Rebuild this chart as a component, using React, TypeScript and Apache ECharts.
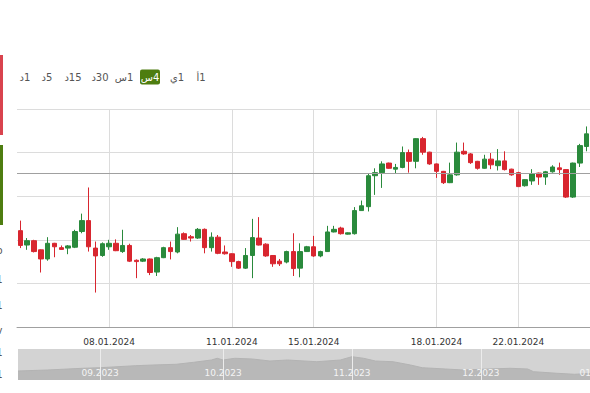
import React, { useEffect, useRef } from 'react';
import * as echarts from 'echarts';

// ---- main chart data (4-hour candles) ----
const days = [
  '03.01.2024', '04.01.2024', '05.01.2024', '08.01.2024', '09.01.2024', '10.01.2024',
  '11.01.2024', '12.01.2024', '15.01.2024', '16.01.2024', '17.01.2024', '18.01.2024',
  '19.01.2024', '22.01.2024', '23.01.2024',
];
const hours = ['00:00', '04:00', '08:00', '12:00', '16:00', '20:00'];
const labelDays = ['08.01.2024', '11.01.2024', '15.01.2024', '18.01.2024', '22.01.2024'];

const opens = [
  2022.1, 2018.8, 2019.8, 2017.7, 2015.6, 2019.2, 2018.2, 2018.1, 2018.3, 2021.9,
  2024.4, 2018.1, 2016.4, 2018.4, 2019.2, 2017.3, 2018.7, 2015.3, 2015.1, 2015.6,
  2012.6, 2015.9, 2018.2, 2017.2, 2021.4, 2020.7, 2020.4, 2022.4, 2018.2, 2020.6,
  2017.2, 2016.8, 2015.0, 2013.5, 2016.4, 2020.4, 2019.0, 2016.4, 2015.1, 2014.9,
  2017.3, 2013.5, 2017.3, 2018.4, 2016.3, 2017.3, 2021.8, 2022.7, 2021.3, 2021.4,
  2026.7, 2027.6, 2034.7, 2035.4, 2037.6, 2036.2, 2036.6, 2040.0, 2038.0, 2043.2,
  2040.1, 2037.4, 2035.7, 2033.1, 2034.9, 2040.3, 2039.7, 2038.0, 2036.4, 2038.5,
  2037.0, 2038.1, 2036.2, 2035.4, 2032.4, 2033.5, 2035.3, 2034.4, 2035.6, 2036.5,
  2036.1, 2029.8, 2037.6, 2041.4,
];
const closes = [
  2018.7, 2019.8, 2017.3, 2015.6, 2019.2, 2018.4, 2017.8, 2018.6, 2021.9, 2024.4,
  2018.4, 2016.3, 2019.1, 2019.2, 2017.5, 2018.7, 2015.1, 2015.0, 2015.6, 2012.5,
  2015.9, 2018.2, 2017.3, 2021.3, 2020.1, 2020.4, 2022.4, 2018.2, 2020.6, 2016.9,
  2016.8, 2015.0, 2013.5, 2016.4, 2020.5, 2018.8, 2016.3, 2014.5, 2014.5, 2017.3,
  2013.4, 2017.3, 2018.4, 2016.3, 2017.3, 2021.8, 2022.4, 2021.4, 2021.6, 2026.7,
  2027.8, 2034.7, 2035.4, 2037.4, 2036.4, 2036.6, 2040.0, 2038.0, 2043.2, 2040.1,
  2037.4, 2035.7, 2033.1, 2034.9, 2040.1, 2039.7, 2037.7, 2036.4, 2038.5, 2037.2,
  2038.1, 2036.1, 2034.9, 2032.2, 2033.8, 2035.1, 2034.4, 2035.6, 2036.7, 2036.1,
  2029.8, 2037.6, 2041.6, 2044.3,
];
const lows = [
  2018.1, 2017.7, 2017.1, 2012.5, 2015.2, 2016.0, 2017.7, 2016.7, 2018.1, 2021.5,
  2017.3, 2007.9, 2016.1, 2017.7, 2017.4, 2017.0, 2014.9, 2011.2, 2014.9, 2011.9,
  2011.7, 2015.8, 2015.5, 2016.9, 2020.0, 2019.6, 2020.2, 2016.9, 2017.3, 2016.7,
  2016.6, 2013.8, 2013.3, 2013.3, 2011.2, 2018.7, 2016.1, 2013.8, 2014.0, 2014.6,
  2011.7, 2011.4, 2017.2, 2016.1, 2016.0, 2017.2, 2021.7, 2021.2, 2021.2, 2021.2,
  2026.7, 2026.5, 2030.3, 2031.9, 2036.3, 2035.1, 2036.4, 2035.4, 2036.4, 2039.5,
  2037.2, 2034.2, 2032.8, 2033.0, 2034.7, 2039.5, 2037.4, 2036.1, 2036.3, 2036.2,
  2035.9, 2035.9, 2034.7, 2032.1, 2032.2, 2032.6, 2032.6, 2032.6, 2035.4, 2034.9,
  2029.6, 2029.6, 2036.7, 2040.3,
];
const highs = [
  2024.4, 2020.4, 2020.0, 2017.8, 2020.6, 2019.3, 2018.7, 2018.8, 2022.3, 2026.0,
  2032.0, 2019.6, 2019.4, 2020.0, 2020.1, 2022.3, 2019.1, 2015.5, 2015.8, 2015.7,
  2016.1, 2018.4, 2019.6, 2022.9, 2021.7, 2021.1, 2022.7, 2022.6, 2021.7, 2021.1,
  2018.7, 2016.9, 2015.2, 2018.1, 2024.8, 2025.2, 2019.2, 2016.5, 2015.6, 2017.5,
  2021.5, 2019.2, 2018.6, 2020.9, 2017.5, 2023.2, 2023.2, 2023.0, 2021.7, 2027.5,
  2029.0, 2035.3, 2036.4, 2038.0, 2037.7, 2037.4, 2041.4, 2040.7, 2043.3, 2043.6,
  2040.2, 2037.5, 2035.8, 2037.7, 2042.3, 2042.3, 2039.9, 2038.1, 2039.5, 2039.9,
  2040.8, 2040.3, 2036.3, 2035.6, 2033.9, 2036.2, 2035.4, 2035.8, 2037.1, 2037.7,
  2036.2, 2037.7, 2042.0, 2046.0,
];
const referencePrice = 2035.25;

// ---- navigator data ----
const navStart = '2023-08-14';
const navEnd = '2024-01-05';
const navHolidays = ['2023-12-25', '2024-01-01'];
const navDates = [
  '14.08.2023', '21.08.2023', '29.08.2023', '01.09.2023', '11.09.2023', '14.09.2023',
  '20.09.2023', '25.09.2023', '28.09.2023', '29.09.2023', '02.10.2023', '04.10.2023',
  '09.10.2023', '12.10.2023', '17.10.2023', '24.10.2023', '30.10.2023', '01.11.2023',
  '03.11.2023', '07.11.2023', '10.11.2023', '15.11.2023', '17.11.2023', '23.11.2023',
  '28.11.2023', '01.12.2023', '08.12.2023', '13.12.2023', '14.12.2023', '20.12.2023',
  '26.12.2023', '29.12.2023',
];
const navValues = [
  1913, 1920, 1932, 1936, 1950, 1955,
  1960, 1974, 1990, 2002, 1990, 2002,
  1997, 1983, 1990, 1978, 1990, 2013,
  2002, 1983, 1978, 1955, 1936, 1927,
  1920, 1925, 1932, 1927, 1908, 1897,
  1890, 1897,
];

// ---- timeframe buttons ----
const buttonLabels = ['1د', '5د', '15د', '30د', '1س', '4س', '1ي', '1أ'];
const activeButton = '4س';

// layout / style constants
const GREEN = '#2a8a3c';
const RED = '#d8262f';
const OLIVE = '#4e7d10';
const buttonX = [25, 47, 73, 100, 124, 150, 177, 201];
const leftFragments = ['o', '1', '1', 'v', '1', '1'];
const leftFragmentY = [250, 279, 305, 330, 352, 374];

function buildCategories(): string[] {
  const all: string[] = [];
  days.forEach((d) => hours.forEach((h) => all.push(d + ' ' + h)));
  return all.slice(5, 5 + opens.length);
}

function tradingDays(): string[] {
  const out: string[] = [];
  const d = new Date(navStart + 'T00:00:00Z');
  const end = new Date(navEnd + 'T00:00:00Z');
  while (d <= end) {
    const iso = d.toISOString().slice(0, 10);
    const wd = d.getUTCDay();
    if (wd !== 0 && wd !== 6 && navHolidays.indexOf(iso) < 0) {
      out.push(iso.slice(8, 10) + '.' + iso.slice(5, 7) + '.' + iso.slice(0, 4));
    }
    d.setUTCDate(d.getUTCDate() + 1);
  }
  return out;
}

export default function App() {
  const ref = useRef<HTMLDivElement>(null);

  useEffect(() => {
    if (!ref.current) return;
    const chart = echarts.init(ref.current, null, { renderer: 'svg' });

    const categories = buildCategories();
    const candles = opens.map((o, i) => [o, closes[i], lows[i], highs[i]]);
    const isDateLabel = (_i: number, v: string) =>
      v.slice(11) === '00:00' && labelDays.indexOf(v.slice(0, 10)) >= 0;

    const navCats = tradingDays();
    const navSeries = navCats.map((c) => {
      const k = navDates.indexOf(c);
      return k >= 0 ? navValues[k] : null;
    });
    const isMonthStart = (i: number, v: string) =>
      i > 0 && navCats[i - 1].slice(3, 5) !== v.slice(3, 5);
    const navStep = 5.859;

    const graphics: any[] = [
      { type: 'rect', shape: { x: 0, y: 55, width: 3, height: 80 }, style: { fill: '#d9434e' } },
      { type: 'rect', shape: { x: 0, y: 145, width: 3, height: 80 }, style: { fill: OLIVE } },
    ];
    leftFragments.forEach((t, i) => {
      graphics.push({
        type: 'text',
        x: 2.5,
        y: leftFragmentY[i],
        style: {
          text: t, fill: '#555', font: '10px "DejaVu Sans"',
          align: 'right', textAlign: 'right', verticalAlign: 'middle', textVerticalAlign: 'middle',
        },
      });
    });
    buttonLabels.forEach((t, i) => {
      const active = t === activeButton;
      if (active) {
        graphics.push({
          type: 'rect',
          shape: { x: buttonX[i] - 10, y: 69.5, width: 20, height: 15, r: 2 },
          style: { fill: OLIVE },
        });
      }
      graphics.push({
        type: 'text',
        x: buttonX[i],
        y: 77,
        style: {
          text: '\u200F' + t,
          fill: active ? '#ffffff' : '#555555',
          font: '10px "DejaVu Sans"',
          align: 'center', textAlign: 'center', verticalAlign: 'middle', textVerticalAlign: 'middle',
        },
      });
    });

    chart.setOption({
      animation: false,
      backgroundColor: '#ffffff',
      grid: [
        { left: 17, top: 109, width: 573, height: 218 },
        {
          left: 18, top: 349, width: navStep * (navCats.length - 1), height: 31,
          show: true, backgroundColor: '#d3d3d3', borderWidth: 0,
        },
      ],
      xAxis: [
        {
          type: 'category', gridIndex: 0, data: categories, boundaryGap: true,
          axisLine: { lineStyle: { color: '#a0a0a0' } },
          axisTick: { alignWithLabel: true, interval: isDateLabel, length: 5, lineStyle: { color: '#a0a0a0' } },
          axisLabel: {
            interval: isDateLabel, formatter: (v: string) => v.slice(0, 10),
            color: '#333', fontSize: 9, fontFamily: 'DejaVu Sans', margin: 10,
          },
          splitLine: { show: true, interval: isDateLabel, alignWithLabel: true, lineStyle: { color: '#dcdcdc' } },
        },
        {
          type: 'category', gridIndex: 1, data: navCats, boundaryGap: false, z: 10,
          axisLine: { show: false }, axisTick: { show: false },
          axisLabel: {
            inside: true, interval: isMonthStart, formatter: (v: string) => v.slice(3),
            color: '#f4f4f4', fontSize: 9, fontFamily: 'DejaVu Sans', margin: 3,
          },
          splitLine: { show: true, interval: isMonthStart, lineStyle: { color: '#ececec' } },
        },
      ],
      yAxis: [
        {
          type: 'value', gridIndex: 0, min: 2000, max: 2050, interval: 10,
          axisLabel: { show: false }, axisLine: { show: false }, axisTick: { show: false },
          splitLine: { lineStyle: { color: '#dcdcdc' } },
        },
        { type: 'value', gridIndex: 1, min: 1850, max: 2067, show: false },
      ],
      series: [
        {
          type: 'candlestick', xAxisIndex: 0, yAxisIndex: 0, data: candles, barWidth: 5,
          itemStyle: { color: GREEN, color0: RED, borderColor: GREEN, borderColor0: RED, borderWidth: 1 },
          markLine: {
            silent: true, symbol: ['none', 'none'], label: { show: false },
            lineStyle: { color: '#a0a0a0', type: 'solid', width: 1 },
            data: [{ yAxis: referencePrice }],
          },
        },
        {
          type: 'line', xAxisIndex: 1, yAxisIndex: 1, data: navSeries, connectNulls: true,
          showSymbol: false, symbol: 'none',
          lineStyle: { color: '#b3b3b3', width: 1 },
          areaStyle: { color: '#b8b8b8', opacity: 1 },
        },
      ],
      graphic: graphics,
    });

    return () => chart.dispose();
  }, []);

  return (
    <div
      style={{
        position: 'fixed', left: 0, top: 0, width: 590, height: 393,
        overflow: 'hidden', background: '#ffffff',
      }}
    >
      <div ref={ref} style={{ width: 640, height: 393 }} />
    </div>
  );
}
